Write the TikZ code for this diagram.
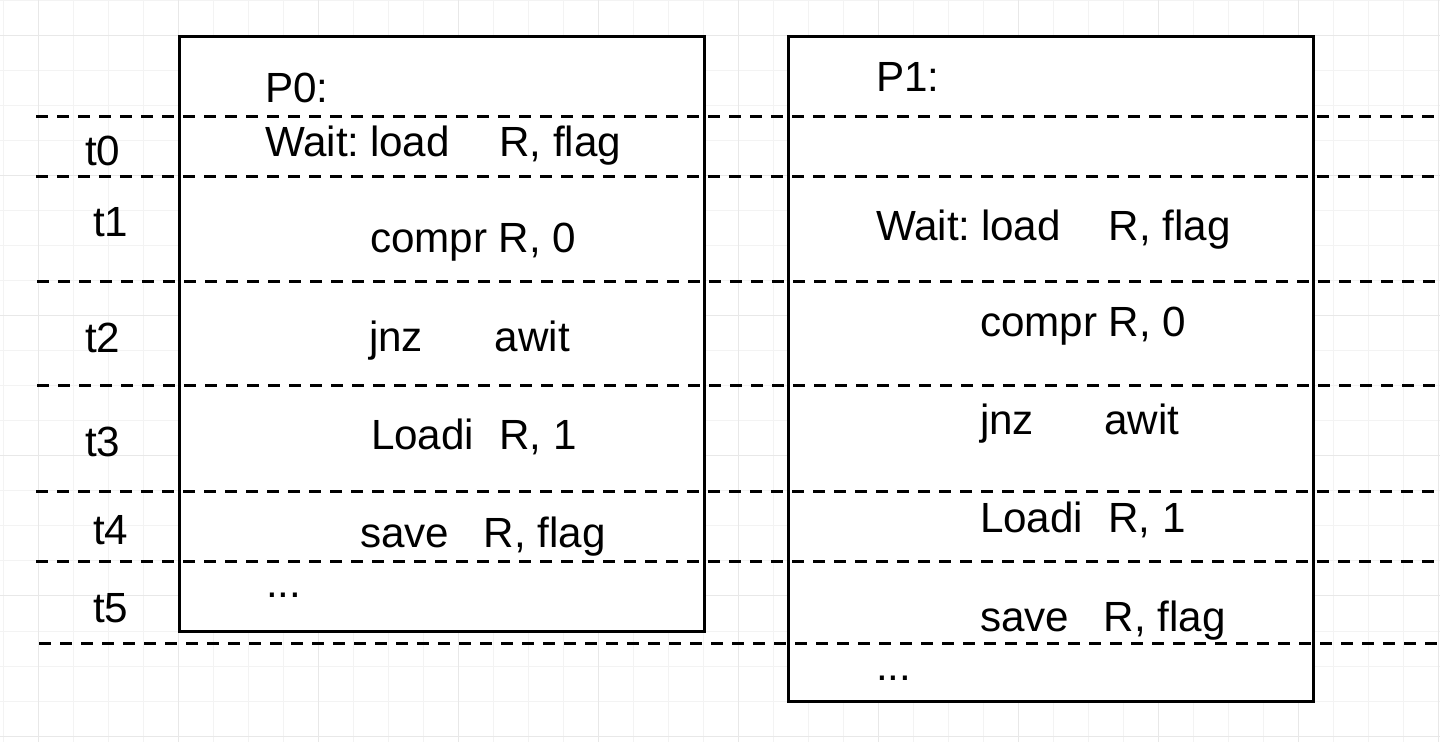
\documentclass[tikz,border=0pt]{standalone}
\usepackage{fontspec}
\setmainfont{Liberation Sans}
\begin{document}
\begin{tikzpicture}[x=0.5pt,y=-0.5pt,
  minorgrid/.style={draw={rgb,255:red,243;green,243;blue,243}, line width=0.5pt},
  majorgrid/.style={draw={rgb,255:red,232;green,232;blue,232}, line width=0.5pt},
  procbox/.style={draw=black, fill=white, line width=1.5pt},
  timeline/.style={draw=black, line width=1.5pt, dash pattern=on 6pt off 4.5pt},
  txt/.style={anchor=base west, inner sep=0pt, outer sep=0pt, text=black,
    font=\fontsize{21.1pt}{25pt}\selectfont}]
\useasboundingbox (0,0) rectangle (1440,742);
\fill[white] (0,0) rectangle (1440,742);
% grid
\foreach \k in {0,...,41} \draw[minorgrid] (3.5+35*\k,0) -- (3.5+35*\k,742);
\foreach \k in {0,...,21} \draw[minorgrid] (0,1+35*\k) -- (1440,1+35*\k);
\foreach \k in {0,...,10} \draw[majorgrid] (38.5+140*\k,0) -- (38.5+140*\k,742);
\foreach \k in {0,...,5} \draw[majorgrid] (0,36+140*\k) -- (1440,36+140*\k);
% process boxes
\draw[procbox] (179,37) rectangle (704,631);
\draw[procbox] (788,37) rectangle (1313,701);
% time lines
\coordinate (l0a) at (36,117);  \coordinate (l0b) at (1440,117);
\coordinate (l1a) at (36,177);  \coordinate (l1b) at (1440,177);
\coordinate (l2a) at (37,282);  \coordinate (l2b) at (1440,282);
\coordinate (l3a) at (37,386);  \coordinate (l3b) at (1440,386);
\coordinate (l4a) at (36,492);  \coordinate (l4b) at (1440,492);
\coordinate (l5a) at (36,562);  \coordinate (l5b) at (1440,562);
\coordinate (l6a) at (39,643);  \coordinate (l6b) at (1440,643);
\foreach \i in {0,...,6} \draw[timeline] (l\i a) -- (l\i b);
% time labels
\node[txt] (t0) at (85,166) {t0};
\node[txt] (t1) at (93,237) {t1};
\node[txt] (t2) at (85,353) {t2};
\node[txt] (t3) at (85,457) {t3};
\node[txt] (t4) at (93,545) {t4};
\node[txt] (t5) at (93,623) {t5};
% P0
\node[txt] (p0) at (265,103) {P0:};
\node[txt] (p0a) at (265,157) {\makebox[5.55em][l]{Wait:\hspace{0.25em}load}R, flag};
\node[txt] (p0b) at (370,253) {compr R, 0};
\node[txt] (p0c) at (369,352) {\makebox[2.98em][l]{jnz}awit};
\node[txt] (p0d) at (371,450) {\makebox[3.04em][l]{Loadi}R, 1};
\node[txt] (p0e) at (360,548) {\makebox[2.93em][l]{save}R, flag};
\node[txt] (p0f) at (266,597) {...};
% P1
\node[txt] (p1) at (876,92) {P1:};
\node[txt] (p1a) at (876,241) {\makebox[5.52em][l]{Wait:\hspace{0.25em}load}R, flag};
\node[txt] (p1b) at (980,337) {compr R, 0};
\node[txt] (p1c) at (980,435) {\makebox[2.95em][l]{jnz}awit};
\node[txt] (p1d) at (980,533) {\makebox[3.04em][l]{Loadi}R, 1};
\node[txt] (p1e) at (980,632) {\makebox[2.93em][l]{save}R, flag};
\node[txt] (p1f) at (876,680) {...};
\end{tikzpicture}
\end{document}
